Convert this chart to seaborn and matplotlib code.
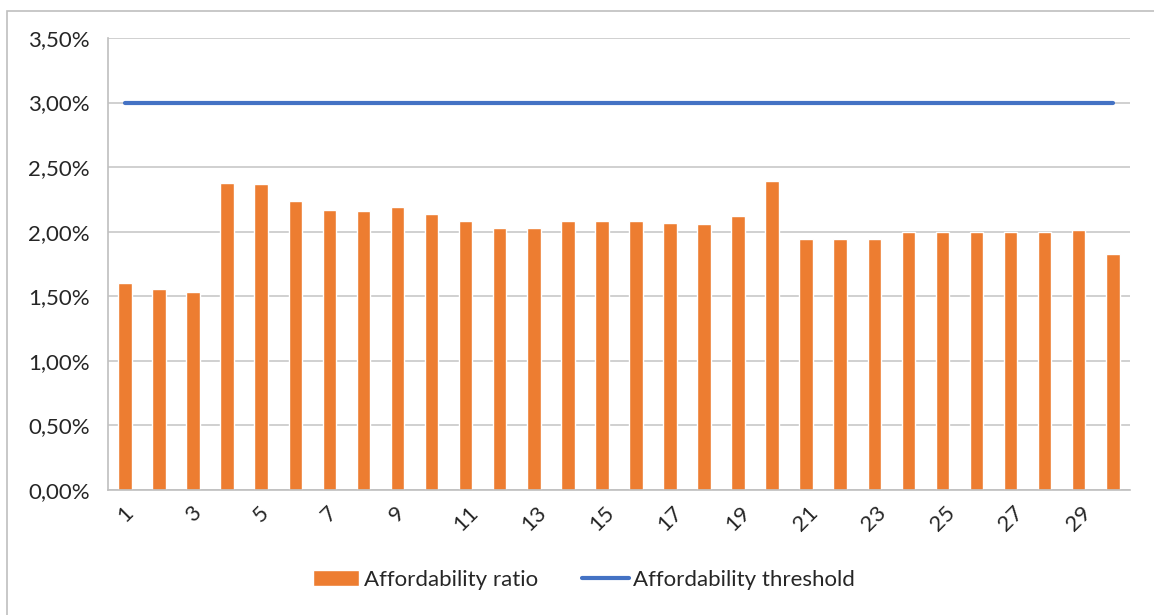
import numpy as np
import pandas as pd
import matplotlib
matplotlib.use("Agg")
import matplotlib.pyplot as plt
import seaborn as sns
from matplotlib.ticker import FuncFormatter, FixedLocator
from matplotlib.patches import Rectangle

# Datos
dias = list(range(1, 31))
ratio = [1.60, 1.56, 1.53, 2.38, 2.37, 2.24, 2.17, 2.16, 2.19, 2.14,
         2.08, 2.03, 2.03, 2.08, 2.08, 2.08, 2.07, 2.06, 2.12, 2.39,
         1.94, 1.94, 1.94, 2.00, 2.00, 2.00, 2.00, 2.00, 2.01, 1.83]
umbral = [3.00] * 30

df = pd.DataFrame({"dia": dias, "ratio": ratio, "umbral": umbral})

sns.set_style("white")
plt.rcParams["font.family"] = ["Lato", "DejaVu Sans"]
color_texto = "#262626"

fig = plt.figure(figsize=(11.54, 6.15), dpi=100)
ax = fig.add_axes([0.0936, 0.2033, 0.8854, 0.7349])

sns.barplot(data=df, x="dia", y="ratio", color="#ED7D31", width=0.4,
            saturation=1, ax=ax, label="Affordability ratio")
pos = np.arange(len(dias))
sns.lineplot(x=pos, y=df["umbral"], color="#4472C4", linewidth=3,
             ax=ax, label="Affordability threshold")

ax.set_xlim(-0.5, len(dias) - 0.5)
ax.set_ylim(0, 3.5)
ax.set_yticks(np.arange(0, 3.51, 0.5))
ax.yaxis.set_major_formatter(FuncFormatter(lambda v, p: f"{v:.2f}%".replace(".", ",")))
ax.grid(axis="y", color="#C8C8C8", linewidth=1.2)
ax.set_axisbelow(True)

# etiquetas en los impares, marcas en los limites de categoria
ax.set_xticks(pos[::2])
ax.set_xticklabels([str(d) for d in dias[::2]], rotation=45, ha="center", va="top")
ax.xaxis.set_minor_locator(FixedLocator(np.arange(-0.5, len(dias), 1)))
ax.tick_params(axis="x", which="major", length=0, pad=9, labelsize=16, colors=color_texto)
ax.tick_params(axis="x", which="minor", length=6, color="#BFBFBF", width=1.2)
ax.tick_params(axis="y", length=8, width=1.2, labelsize=16, pad=5,
               colors="#BFBFBF", labelcolor=color_texto)

for s in ["top", "right"]:
    ax.spines[s].set_visible(False)
for s in ["left", "bottom"]:
    ax.spines[s].set_color("#BFBFBF")
    ax.spines[s].set_linewidth(1.2)

ax.set_xlabel("")
ax.set_ylabel("")

handles, labels = ax.get_legend_handles_labels()
ax.get_legend().remove()
orden = [labels.index("Affordability ratio"), labels.index("Affordability threshold")]
fig.legend([handles[i] for i in orden], [labels[i] for i in orden],
           loc="center", bbox_to_anchor=(0.506, 0.057), ncol=2,
           frameon=False, fontsize=16, handlelength=2.1, handletextpad=0.2,
           columnspacing=2.0, labelcolor=color_texto)

# marco del grafico
fig.patches.append(Rectangle((0.006, -0.02), 1.1, 1 - 0.018 + 0.02, transform=fig.transFigure,
                             fill=False, edgecolor="#BFBFBF", linewidth=1.2))

fig.savefig("out.png", dpi=100)
